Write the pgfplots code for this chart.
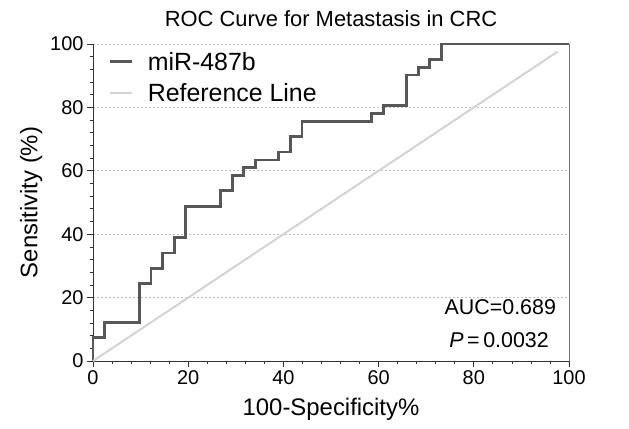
\documentclass[border=0pt]{standalone}
\usepackage{fontspec}
\setmainfont{Liberation Sans}
\usepackage{pgfplots}
\pgfplotsset{compat=1.18}

\definecolor{curvegray}{HTML}{575757}
\definecolor{refgray}{HTML}{D3D3D3}
\definecolor{gridgray}{HTML}{C0C0C0}

\begin{document}
\begin{tikzpicture}
\begin{axis}[
  scale only axis,
  width=476bp, height=317bp,
  xmin=0, xmax=100, ymin=0, ymax=100,
  axis lines*=left,
  axis line style={black!80, line width=0.9pt},
  xtick={0,20,...,100}, ytick={0,20,...,100},
  minor x tick num=4, minor y tick num=4,
  tick align=outside,
  major tick length=6bp, minor tick length=3bp,
  tick style={black!80, line width=0.7pt},
  /pgf/number format/assume math mode=true,
  tick label style={font=\fontsize{20}{23}\selectfont},
  ymajorgrids,
  grid style={gridgray, dash pattern=on 2bp off 2bp, line width=0.6pt},
  title={ROC Curve for Metastasis in CRC},
  title style={font=\fontsize{22}{25}\selectfont, at={(axis description cs:0.5,1.062)}, anchor=center},
  xlabel={100-Specificity\%},
  xlabel style={font=\fontsize{24}{27}\selectfont, at={(axis description cs:0.5,-0.151)}, anchor=center},
  ylabel={Sensitivity (\%)},
  ylabel style={font=\fontsize{24}{27}\selectfont, at={(axis description cs:-0.13,0.5)}, anchor=center},
  legend style={at={(axis description cs:0.027,0.988)}, anchor=north west, draw=none, fill=none,
    font=\fontsize{25}{28}\selectfont, row sep=8bp},
  legend cell align=left,
  legend image code/.code={\draw[#1] (0bp,0bp) -- (22bp,0bp); \path (34bp,0bp);},
  clip=false,
]
\addplot[curvegray, line width=2.8pt, line join=miter] coordinates {
  (0,0) (0,7.3) (2.4,7.3) (2.4,12.2) (9.8,12.2) (9.8,24.4) (12.2,24.4) (12.2,29.3)
  (14.6,29.3) (14.6,34.1) (17.1,34.1) (17.1,39.0) (19.5,39.0) (19.5,48.8)
  (26.8,48.8) (26.8,53.7) (29.3,53.7) (29.3,58.5) (31.7,58.5) (31.7,61.0)
  (34.1,61.0) (34.1,63.4) (39.0,63.4) (39.0,65.9) (41.5,65.9) (41.5,70.7)
  (43.9,70.7) (43.9,75.6) (58.5,75.6) (58.5,78.0) (61.0,78.0) (61.0,80.5)
  (65.9,80.5) (65.9,90.2) (68.3,90.2) (68.3,92.7) (70.7,92.7) (70.7,95.1)
  (73.2,95.1) (73.2,100) (100,100)
};
\addlegendentry{miR-487b}
\addplot[refgray, line width=2pt] coordinates {(0,0) (97.6,97.6)};
\addlegendentry{Reference Line}
\draw[black!55, line width=0.9pt] (rel axis cs:1,0) -- (rel axis cs:1,1);
\node[anchor=east, font=\fontsize{21.5}{24}\selectfont] at (axis cs:98,17) {AUC=0.689};
\node[anchor=east, font=\fontsize{21.5}{24}\selectfont] at (axis cs:96.5,6.6) {\textit{P}\,=\,0.0032};
\path (rel axis cs:0,0) ++(-93bp,-68bp) coordinate (bbsw);
\path (rel axis cs:1,1) ++(60bp,44bp) coordinate (bbne);
\end{axis}
\useasboundingbox (bbsw) rectangle (bbne);
\end{tikzpicture}
\end{document}
